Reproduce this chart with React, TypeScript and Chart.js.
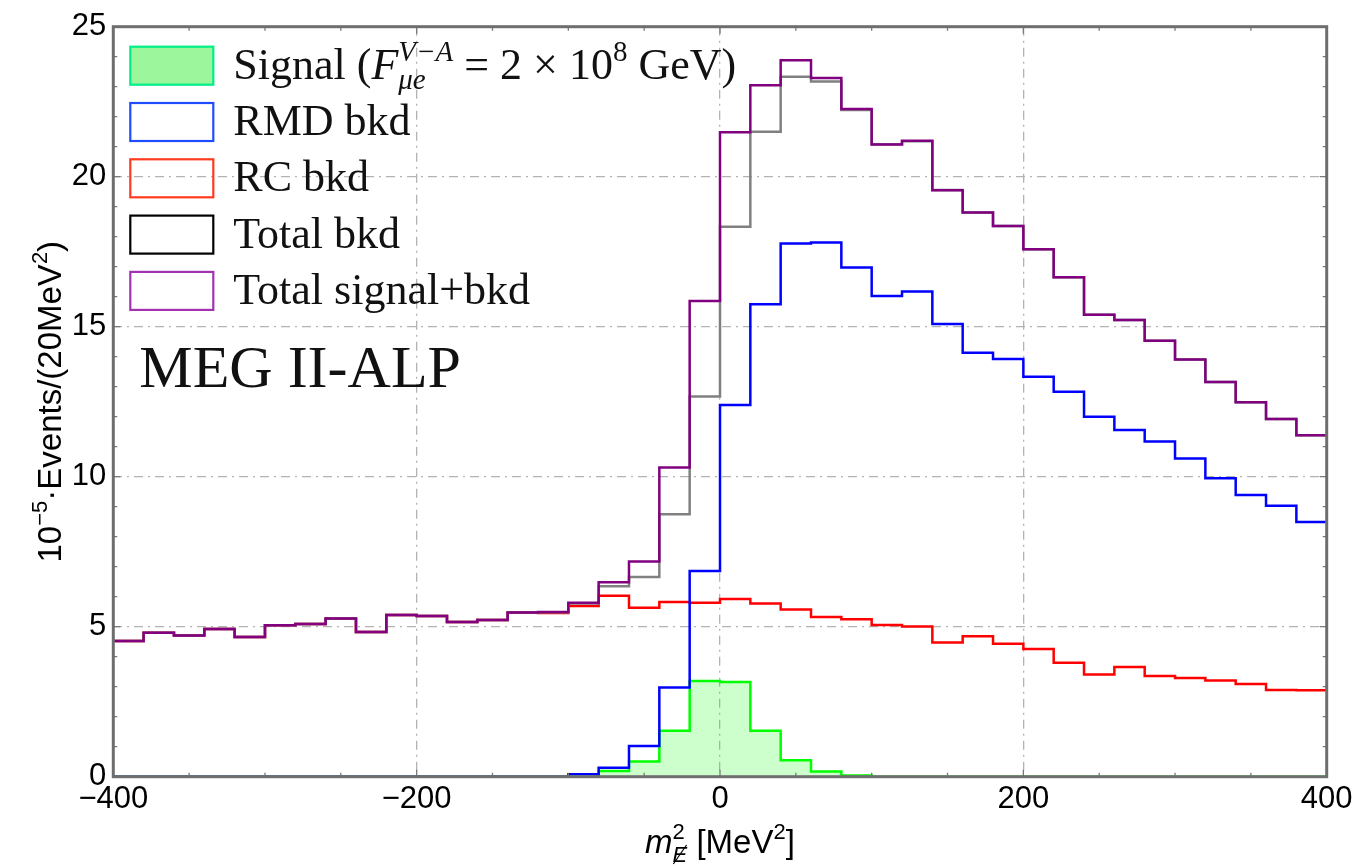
import React, { useEffect, useRef } from "react";
import { Chart, registerables } from "chart.js";

Chart.register(...registerables);

// Bin edges in MeV^2 (bins of 20 MeV^2)
const binEdges = [
  -400, -380, -360, -340, -320, -300, -280, -260, -240, -220,
  -200, -180, -160, -140, -120, -100, -80, -60, -40, -20,
  0, 20, 40, 60, 80, 100, 120, 140, 160, 180,
  200, 220, 240, 260, 280, 300, 320, 340, 360, 380, 400,
];

// Signal (F_mu e^{V-A} = 2e8 GeV)
const signalVals = [
  0, 0, 0, 0, 0, 0, 0, 0, 0, 0,
  0, 0, 0, 0, 0, 0, 0.19, 0.51, 1.53, 3.19,
  3.16, 1.53, 0.55, 0.17, 0.04, 0, 0, 0, 0, 0,
  0, 0, 0, 0, 0, 0, 0, 0, 0, 0,
];

// RMD background
const rmdVals = [
  0, 0, 0, 0, 0, 0, 0, 0, 0, 0,
  0, 0, 0, 0, 0, 0.08, 0.3, 1.02, 2.97, 6.86,
  12.39, 15.75, 17.77, 17.81, 16.97, 16.02, 16.17, 15.09, 14.13, 13.92,
  13.33, 12.83, 12.0, 11.56, 11.17, 10.61, 9.95, 9.39, 9.03, 8.49,
];

// RC background
const rcVals = [
  4.52, 4.8, 4.71, 4.92, 4.66, 5.05, 5.09, 5.27, 4.82, 5.39,
  5.36, 5.16, 5.22, 5.47, 5.46, 5.69, 6.03, 5.63, 5.82, 5.8,
  5.92, 5.77, 5.57, 5.32, 5.25, 5.06, 5.01, 4.47, 4.68, 4.43,
  4.26, 3.8, 3.41, 3.66, 3.36, 3.29, 3.21, 3.09, 2.89, 2.88,
];

// Total background
const totalBkdVals = [
  4.52, 4.8, 4.71, 4.92, 4.66, 5.05, 5.09, 5.27, 4.82, 5.39,
  5.36, 5.16, 5.22, 5.47, 5.48, 5.77, 6.35, 6.66, 8.75, 12.67,
  18.33, 21.5, 23.33, 23.17, 22.22, 21.08, 21.18, 19.56, 18.81, 18.36,
  17.58, 16.65, 15.4, 15.22, 14.53, 13.91, 13.16, 12.48, 11.92, 11.38,
];

// Total signal + background
const totalSigBkdVals = [
  4.52, 4.8, 4.71, 4.92, 4.66, 5.05, 5.09, 5.27, 4.82, 5.39,
  5.36, 5.16, 5.22, 5.47, 5.49, 5.8, 6.48, 7.17, 10.31, 15.86,
  21.48, 23.05, 23.88, 23.29, 22.26, 21.07, 21.2, 19.55, 18.81, 18.36,
  17.58, 16.65, 15.4, 15.22, 14.53, 13.91, 13.16, 12.48, 11.92, 11.38,
];

const xTicks = [-400, -200, 0, 200, 400];
const yTicks = [0, 5, 10, 15, 20, 25];
const xMinorTicks = [-350, -300, -250, -150, -100, -50, 50, 100, 150, 250, 300, 350];
const yMinorTicks = [1, 2, 3, 4, 6, 7, 8, 9, 11, 12, 13, 14, 16, 17, 18, 19, 21, 22, 23, 24];

const legendItems = [
  { key: "signal", fill: "#9cf79c", stroke: "#00ee88" },
  { key: "rmd", fill: null, stroke: "#1e4cff" },
  { key: "rc", fill: null, stroke: "#ff3a1e" },
  { key: "tb", fill: null, stroke: "#000000" },
  { key: "tsb", fill: null, stroke: "#a332b0" },
];

function steps(vals: number[]) {
  return binEdges.map((x, i) => ({ x, y: vals[Math.min(i, vals.length - 1)] }));
}

type Run = { text?: string; font?: string; dy?: number; slash?: boolean; stack?: Run[] };

function runWidth(ctx: CanvasRenderingContext2D, r: Run): number {
  if (r.stack) {
    return Math.max(...r.stack.map((s) => runWidth(ctx, s)));
  }
  ctx.font = r.font as string;
  return ctx.measureText(r.text as string).width;
}

function drawRuns(
  ctx: CanvasRenderingContext2D,
  runs: Run[],
  x: number,
  y: number,
  align: "left" | "center"
) {
  ctx.textAlign = "left";
  ctx.textBaseline = "alphabetic";
  const total = runs.reduce((a, r) => a + runWidth(ctx, r), 0);
  let cx = align === "center" ? x - total / 2 : x;
  for (const r of runs) {
    const w = runWidth(ctx, r);
    const items = r.stack ? r.stack : [r];
    for (const s of items) {
      ctx.font = s.font as string;
      const yy = y + (s.dy || 0);
      ctx.fillText(s.text as string, cx, yy);
      if (s.slash) {
        const sw = ctx.measureText(s.text as string).width;
        const m = ctx.measureText("E");
        const h = m.actualBoundingBoxAscent;
        ctx.save();
        ctx.lineWidth = 1.2;
        ctx.strokeStyle = ctx.fillStyle as string;
        ctx.beginPath();
        ctx.moveTo(cx + sw * 0.05, yy + 2);
        ctx.lineTo(cx + sw * 0.95, yy - h - 2);
        ctx.stroke();
        ctx.restore();
      }
    }
    cx += w;
  }
}

const SERIF = '"Liberation Serif", "DejaVu Serif", serif';
const SANS = '"Liberation Sans", Arial, Helvetica, sans-serif';

const decorPlugin = {
  id: "decor",
  afterDraw(chart: any) {
    const ctx: CanvasRenderingContext2D = chart.ctx;
    const a = chart.chartArea;
    const xs = chart.scales.x;
    const ys = chart.scales.y;
    ctx.save();

    // Frame ticks
    ctx.strokeStyle = "#7a7a7a";
    ctx.lineWidth = 1.3;
    ctx.beginPath();
    for (const v of xMinorTicks) {
      const px = xs.getPixelForValue(v);
      ctx.moveTo(px, a.bottom);
      ctx.lineTo(px, a.bottom - 4);
      ctx.moveTo(px, a.top);
      ctx.lineTo(px, a.top + 4);
    }
    for (const v of xTicks) {
      const px = xs.getPixelForValue(v);
      ctx.moveTo(px, a.bottom);
      ctx.lineTo(px, a.bottom - 7);
      ctx.moveTo(px, a.top);
      ctx.lineTo(px, a.top + 7);
    }
    for (const v of yMinorTicks) {
      const py = ys.getPixelForValue(v);
      ctx.moveTo(a.left, py);
      ctx.lineTo(a.left + 4, py);
      ctx.moveTo(a.right, py);
      ctx.lineTo(a.right - 4, py);
    }
    for (const v of yTicks) {
      const py = ys.getPixelForValue(v);
      ctx.moveTo(a.left, py);
      ctx.lineTo(a.left + 7, py);
      ctx.moveTo(a.right, py);
      ctx.lineTo(a.right - 7, py);
    }
    ctx.stroke();

    // Frame
    ctx.strokeStyle = "#6e6e6e";
    ctx.lineWidth = 3;
    ctx.strokeRect(a.left, a.top, a.right - a.left, a.bottom - a.top);

    // Legend
    const boxL = a.left + 17;
    const boxW = 83;
    const boxH = 38;
    const top0 = a.top + 20;
    const gap = 56.3;
    const R = `44px ${SERIF}`;
    const I = `italic 44px ${SERIF}`;
    const SI = `italic 29px ${SERIF}`;
    const S = `29px ${SERIF}`;
    const labels: Record<string, Run[]> = {
      signal: [
        { text: "Signal (", font: R },
        { text: "F", font: I },
        {
          stack: [
            { text: "V\u2212A", font: SI, dy: -18 },
            { text: "\u03bce", font: SI, dy: 10 },
          ],
        },
        { text: " = 2 \u00d7 10", font: R },
        { text: "8", font: S, dy: -18 },
        { text: " GeV)", font: R },
      ],
      rmd: [{ text: "RMD bkd", font: R }],
      rc: [{ text: "RC bkd", font: R }],
      tb: [{ text: "Total bkd", font: R }],
      tsb: [{ text: "Total signal+bkd", font: R }],
    };
    legendItems.forEach((it, i) => {
      const t = top0 + i * gap;
      if (it.fill) {
        ctx.fillStyle = it.fill;
        ctx.fillRect(boxL, t, boxW, boxH);
      }
      ctx.strokeStyle = it.stroke;
      ctx.lineWidth = 2.2;
      ctx.strokeRect(boxL, t, boxW, boxH);
      ctx.fillStyle = "#111";
      drawRuns(ctx, labels[it.key], boxL + 103, t + boxH / 2 + 13, "left");
    });

    // Annotation
    ctx.fillStyle = "#111";
    drawRuns(ctx, [{ text: "MEG II-ALP", font: `60px ${SERIF}` }], a.left + 26, a.top + 360, "left");

    // Axis titles
    const F = `33px ${SANS}`;
    const f = `22px ${SANS}`;
    ctx.fillStyle = "#000";
    drawRuns(
      ctx,
      [
        { text: "m", font: `italic ${F}` },
        {
          stack: [
            { text: "2", font: f, dy: -14 },
            { text: "E", font: `italic ${f}`, dy: 9, slash: true },
          ],
        },
        { text: " [MeV", font: F },
        { text: "2", font: f, dy: -14 },
        { text: "]", font: F },
      ],
      (a.left + a.right) / 2,
      853,
      "center"
    );

    ctx.save();
    ctx.translate(61, (a.top + a.bottom) / 2);
    ctx.rotate(-Math.PI / 2);
    drawRuns(
      ctx,
      [
        { text: "10", font: F },
        { text: "\u22125", font: f, dy: -14 },
        { text: "\u00b7Events/(20MeV", font: F },
        { text: "2", font: f, dy: -14 },
        { text: ")", font: F },
      ],
      0,
      0,
      "center"
    );
    ctx.restore();

    ctx.restore();
  },
};

export default function App() {
  const ref = useRef<HTMLCanvasElement | null>(null);

  useEffect(() => {
    if (!ref.current) return;
    const mk = (label: string, vals: number[], color: string, extra: any = {}) => ({
      label,
      data: steps(vals),
      borderColor: color,
      borderWidth: 2.5,
      pointRadius: 0,
      stepped: "before",
      fill: false,
      ...extra,
    });
    const chart = new Chart(ref.current, {
      type: "line",
      data: {
        datasets: [
          mk("Total signal+bkd", totalSigBkdVals, "#800080"),
          mk("Total bkd", totalBkdVals, "#808080"),
          mk("RMD bkd", rmdVals, "#0000ff"),
          mk("RC bkd", rcVals, "#ff0000"),
          mk("Signal", signalVals, "#00ff00", {
            fill: "origin",
            backgroundColor: "rgba(0,255,0,0.2)",
          }),
        ] as any,
      },
      options: {
        animation: false,
        responsive: true,
        maintainAspectRatio: false,
        layout: { padding: { left: 0, right: 31.3, top: 26.7, bottom: 0 } },
        plugins: {
          legend: { display: false },
          tooltip: { enabled: false },
        },
        scales: {
          x: {
            type: "linear",
            min: -400,
            max: 400,
            afterBuildTicks: (s: any) => {
              s.ticks = xTicks.map((v) => ({ value: v }));
            },
            afterFit: (s: any) => {
              s.height = 89.3;
            },
            ticks: {
              color: "#000",
              font: { family: SANS, size: 31 },
              padding: 4,
              maxRotation: 0,
              autoSkip: false,
              callback: (v: any) => String(v).replace("-", "\u2212"),
            },
            grid: {
              color: (c: any) =>
                c.tick && (c.tick.value === -400 || c.tick.value === 400) ? "rgba(0,0,0,0)" : "#b3b3b3",
              lineWidth: 1.3,
              drawTicks: false,
            },
            border: { display: false, dash: [9, 5, 2, 5] },
          },
          y: {
            type: "linear",
            min: 0,
            max: 25,
            afterBuildTicks: (s: any) => {
              s.ticks = yTicks.map((v) => ({ value: v }));
            },
            afterFit: (s: any) => {
              s.width = 113.3;
            },
            ticks: {
              color: "#000",
              font: { family: SANS, size: 31 },
              padding: 7,
              autoSkip: false,
            },
            grid: {
              color: (c: any) =>
                c.tick && (c.tick.value === 0 || c.tick.value === 25) ? "rgba(0,0,0,0)" : "#b3b3b3",
              lineWidth: 1.3,
              drawTicks: false,
            },
            border: { display: false, dash: [9, 5, 2, 5] },
          },
        },
      },
      plugins: [decorPlugin],
    } as any);
    return () => chart.destroy();
  }, []);

  return (
    <div style={{ position: "fixed", left: 0, top: 0, width: 1358, height: 866, background: "#fff" }}>
      <canvas ref={ref} />
    </div>
  );
}
